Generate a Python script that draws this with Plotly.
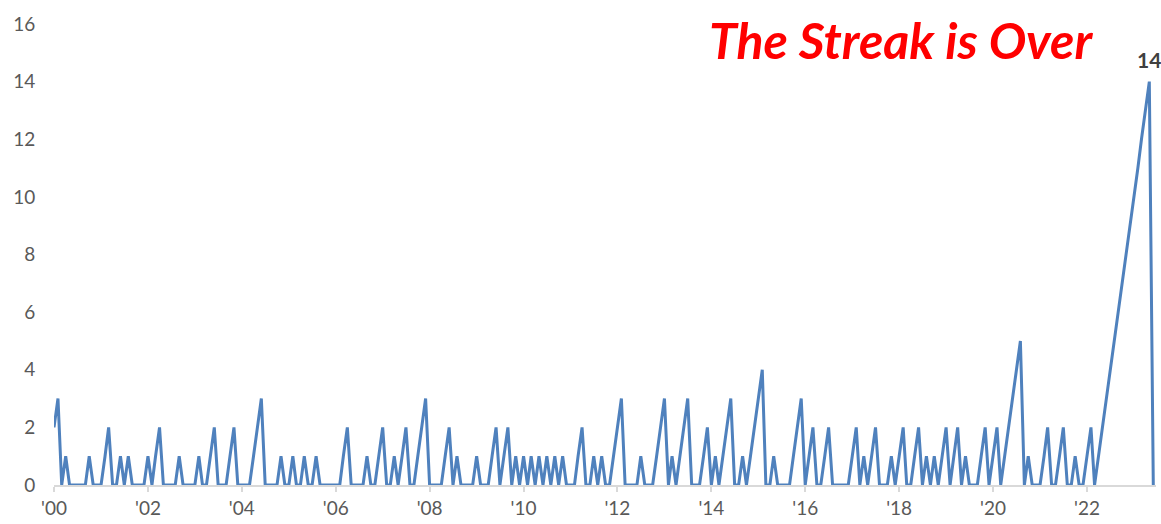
import pandas as pd
import plotly.graph_objects as go

# Consecutive-month streak counter, monthly from Jan 2000, one row per year
streak = (
    [2, 3, 0, 1, 0, 0, 0, 0, 0, 1, 0, 0]      # 2000
    + [0, 1, 2, 0, 0, 1, 0, 1, 0, 0, 0, 0]    # 2001
    + [1, 0, 1, 2, 0, 0, 0, 0, 1, 0, 0, 0]    # 2002
    + [0, 1, 0, 0, 1, 2, 0, 0, 0, 1, 2, 0]    # 2003
    + [0, 0, 0, 1, 2, 3, 0, 0, 0, 0, 1, 0]    # 2004
    + [0, 1, 0, 0, 1, 0, 0, 1, 0, 0, 0, 0]    # 2005
    + [0, 0, 1, 2, 0, 0, 0, 0, 1, 0, 0, 1]    # 2006
    + [2, 0, 0, 1, 0, 1, 2, 0, 0, 1, 2, 3]    # 2007
    + [0, 0, 0, 0, 1, 2, 0, 1, 0, 0, 0, 0]    # 2008
    + [1, 0, 0, 0, 1, 2, 0, 1, 2, 0, 1, 0]    # 2009
    + [1, 0, 1, 0, 1, 0, 1, 0, 1, 0, 1, 0]    # 2010
    + [0, 0, 1, 2, 0, 0, 1, 0, 1, 0, 0, 1]    # 2011
    + [2, 3, 0, 0, 0, 0, 1, 0, 0, 0, 1, 2]    # 2012
    + [3, 0, 1, 0, 1, 2, 3, 0, 0, 0, 1, 2]    # 2013
    + [0, 1, 0, 1, 2, 3, 0, 0, 1, 0, 1, 2]    # 2014
    + [3, 4, 0, 0, 1, 0, 0, 0, 0, 1, 2, 3]    # 2015
    + [0, 1, 2, 0, 0, 1, 2, 0, 0, 0, 0, 0]    # 2016
    + [1, 2, 0, 1, 0, 1, 2, 0, 0, 0, 1, 0]    # 2017
    + [1, 2, 0, 0, 1, 2, 0, 1, 0, 1, 0, 1]    # 2018
    + [2, 0, 1, 2, 0, 1, 0, 0, 0, 1, 2, 0]    # 2019
    + [1, 2, 0, 1, 2, 3, 4, 5, 0, 1, 0, 0]    # 2020
    + [0, 1, 2, 0, 0, 1, 2, 0, 0, 1, 0, 0]    # 2021
    + [1, 2, 0, 1, 2, 3, 4, 5, 6, 7, 8, 9]    # 2022
    + [10, 11, 12, 13, 14, 0]                 # 2023
)
start_month = "2000-01-01"
months = pd.date_range(start_month, periods=len(streak), freq="MS")

tick_years = list(range(2000, 2024, 2))
tick_vals = [f"{y}-01-01" for y in tick_years]
tick_text = [f"'{y % 100:02d}" for y in tick_years]
y_ticks = list(range(0, 17, 2))

title_text = "The Streak is Over"

fig = go.Figure()
fig.add_trace(go.Scatter(
    x=months, y=streak, mode="lines",
    line=dict(color="#4F81BD", width=3),
    hoverinfo="x+y", showlegend=False,
))

# label the streak's peak
peak_idx = max(range(len(streak)), key=lambda i: streak[i])
fig.add_annotation(
    x=months[peak_idx], y=streak[peak_idx], text=f"<b>{streak[peak_idx]}</b>",
    showarrow=False, yshift=22, font=dict(family="Lato", size=21, color="#404040"),
)
fig.add_annotation(
    xref="paper", yref="paper", x=0.769, y=0.966, xanchor="center", yanchor="middle",
    text=f"<b><i>{title_text}</i></b>", showarrow=False,
    font=dict(family="Lato", size=50, color="#FF0000"),
)

fig.update_layout(
    width=1161, height=524,
    margin=dict(l=54, r=5, t=24, b=39),
    paper_bgcolor="white", plot_bgcolor="white",
    font=dict(family="Lato", size=19, color="#595959"),
    xaxis=dict(
        type="date", range=["2000-01-01", "2023-06-22"],
        tickvals=tick_vals, ticktext=tick_text,
        showgrid=False, zeroline=False,
        showline=True, linecolor="#D9D9D9", linewidth=1.5,
        ticks="outside", ticklen=5, tickcolor="#D9D9D9", tickwidth=1.5,
        tickfont=dict(size=19, color="#595959"),
    ),
    yaxis=dict(
        range=[0, 16], tickvals=y_ticks,
        showgrid=False, zeroline=False, showline=False,
        ticks="outside", ticklen=14, tickcolor="rgba(0,0,0,0)",
        tickfont=dict(size=19, color="#595959"),
    ),
)

fig.write_html("out.html")
